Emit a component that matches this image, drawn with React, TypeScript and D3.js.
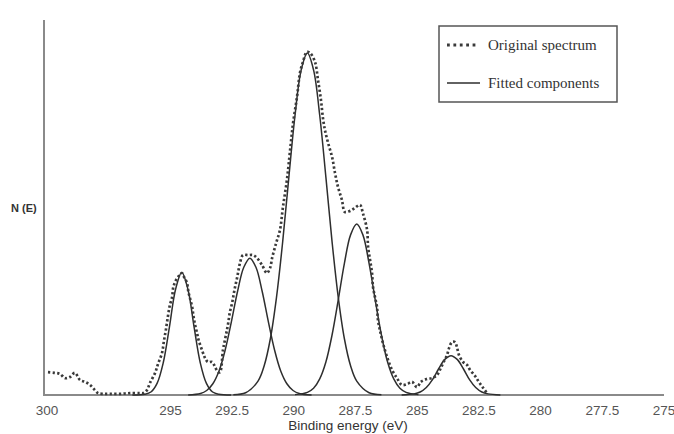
import React from 'react';
import * as d3 from 'd3';

// binding energy (eV) vs. intensity (arbitrary units)
const spectrum: [number, number][] = [
  [299.96, 6.1], [299.68, 5.9], [299.47, 5.6], [299.27, 4.5], [299.07, 4.8], [298.87, 5.9],
  [298.66, 4.0], [298.46, 3.5], [298.26, 2.7], [298.06, 1.3], [297.93, 0.5], [297.73, 0.3],
  [297.45, 0.3], [297.04, 0.3], [296.64, 0.5], [296.23, 0.5], [296.11, 0.5], [295.95, 1.3],
  [295.83, 3.2], [295.62, 5.9], [295.50, 8.3], [295.34, 11.2], [295.26, 14.5], [295.18, 17.5],
  [295.10, 21.0], [295.02, 24.0], [294.93, 26.1], [294.89, 28.5], [294.81, 30.1], [294.69, 31.5],
  [294.53, 32.5], [294.45, 31.5], [294.33, 29.9], [294.27, 27.5], [294.21, 25.9], [294.12, 23.5],
  [294.06, 20.8], [294.00, 18.7], [293.92, 16.5], [293.86, 14.7], [293.72, 12.0], [293.60, 9.9],
  [293.48, 8.8], [293.31, 8.8], [293.19, 7.5], [293.07, 6.1], [292.99, 6.1], [292.87, 12.0],
  [292.79, 14.7], [292.71, 17.3], [292.65, 19.5], [292.59, 22.1], [292.50, 24.5], [292.44, 26.7],
  [292.38, 28.8], [292.30, 31.2], [292.24, 33.3], [292.18, 35.2], [292.06, 37.3], [291.85, 37.3],
  [291.65, 37.3], [291.49, 36.5], [291.29, 34.7], [291.09, 32.5], [290.96, 33.9], [290.88, 36.5],
  [290.76, 39.5], [290.68, 41.3], [290.56, 44.0], [290.44, 50.1], [290.28, 57.3], [290.15, 65.3],
  [290.03, 72.5], [289.87, 79.5], [289.75, 85.9], [289.63, 88.8], [289.47, 91.5], [289.34, 91.2],
  [289.14, 88.8], [289.02, 84.0], [288.90, 78.7], [288.82, 73.9], [288.74, 70.7], [288.61, 67.2],
  [288.45, 63.5], [288.33, 59.2], [288.21, 55.5], [288.05, 52.0], [287.93, 48.8], [287.72, 49.1],
  [287.52, 49.9], [287.32, 50.7], [287.20, 48.5], [287.03, 44.0], [286.99, 39.5], [286.91, 36.0],
  [286.83, 32.5], [286.79, 28.8], [286.71, 26.1], [286.63, 23.5], [286.59, 20.0], [286.51, 17.3],
  [286.39, 13.9], [286.22, 10.1], [286.02, 6.7], [285.82, 4.5], [285.62, 2.7], [285.41, 2.9],
  [285.21, 3.5], [285.01, 2.1], [284.85, 3.5], [284.60, 4.3], [284.40, 4.5], [284.20, 5.3],
  [284.08, 6.7], [283.95, 8.5], [283.79, 10.7], [283.71, 12.5], [283.59, 14.1], [283.47, 14.1],
  [283.39, 12.8], [283.31, 10.7], [283.14, 8.8], [282.98, 8.0], [282.86, 6.7], [282.66, 5.1],
  [282.50, 3.5], [282.33, 1.9], [282.17, 0.5],
];

const comp1: [number, number][] = [
  [296.54, 0], [296.04, 0.2], [295.79, 0.8], [295.54, 3.1], [295.29, 8.6], [295.04, 18.1],
  [294.79, 28.2], [294.54, 32.7], [294.29, 28.2], [294.04, 18.1], [293.79, 8.6], [293.54, 3.1],
  [293.29, 0.8], [293.04, 0.2], [292.54, 0],
];
const comp2: [number, number][] = [
  [294.28, 0], [293.78, 0.4], [293.53, 1.2], [293.28, 3.0], [293.03, 6.4], [292.78, 12.0],
  [292.53, 19.5], [292.28, 27.6], [292.03, 34.0], [291.78, 36.5], [291.53, 34.0], [291.28, 27.6],
  [291.03, 19.5], [290.78, 12.0], [290.53, 6.4], [290.28, 3.0], [290.03, 1.2], [289.78, 0.4],
  [289.28, 0],
];
const comp3: [number, number][] = [
  [292.45, 0.1], [291.95, 0.6], [291.45, 3.7], [291.2, 7.8], [290.95, 15.0], [290.7, 26.1],
  [290.45, 40.9], [290.2, 58.1], [289.95, 74.6], [289.7, 86.7], [289.45, 91.2], [289.2, 86.7],
  [288.95, 74.6], [288.7, 58.1], [288.45, 40.9], [288.2, 26.1], [287.95, 15.0], [287.7, 7.8],
  [287.45, 3.7], [286.95, 0.6], [286.45, 0.1],
];
const comp4: [number, number][] = [
  [289.95, 0.1], [289.45, 0.7], [289.2, 1.8], [288.95, 4.3], [288.7, 8.8], [288.45, 16.0],
  [288.2, 25.3], [287.95, 35.1], [287.7, 42.7], [287.45, 45.6], [287.2, 42.7], [286.95, 35.1],
  [286.7, 25.3], [286.45, 16.0], [286.2, 8.8], [285.95, 4.3], [285.7, 1.8], [285.45, 0.7],
  [284.95, 0.1],
];
const comp5: [number, number][] = [
  [285.63, 0], [285.13, 0.3], [284.88, 0.8], [284.63, 2.0], [284.38, 4.1], [284.13, 7.0],
  [283.88, 9.5], [283.63, 10.5], [283.38, 9.5], [283.13, 7.0], [282.88, 4.1], [282.63, 2.0],
  [282.38, 0.8], [282.13, 0.3], [281.63, 0],
];
const components = [comp1, comp2, comp3, comp4, comp5];

const xTicks = [300, 295, 292.5, 290, 287.5, 285, 282.5, 280, 277.5, 275];
const legendItems = ['Original spectrum', 'Fitted components'];

const W = 674;
const H = 434;

export default function App() {
  const x = d3.scaleLinear().domain([300, 275]).range([47, 664]);
  const y = d3.scaleLinear().domain([0, 100]).range([395, 20]);

  const line = d3.line<[number, number]>()
    .x(d => x(d[0]))
    .y(d => y(d[1]))
    .curve(d3.curveCatmullRom);

  const sans = 'Liberation Sans, Arial, sans-serif';
  const serif = 'Liberation Serif, Times New Roman, serif';

  return (
    <svg width={W} height={H} style={{ position: 'absolute', left: 0, top: 0, background: '#fff' }}>
      {/* axes */}
      <line x1={44} x2={44} y1={20} y2={395} stroke="#8a8a8a" strokeWidth={2} />
      <line x1={43} x2={664} y1={395} y2={395} stroke="#8a8a8a" strokeWidth={2} />

      {xTicks.map(t => (
        <text key={t} x={x(t)} y={415} textAnchor="middle" fontFamily={sans} fontSize={13.5} fill="#555">
          {t}
        </text>
      ))}
      <text x={348} y={430} textAnchor="middle" fontFamily={sans} fontSize={13.5} fill="#333">
        Binding energy (eV)
      </text>
      <text x={11} y={212} fontFamily={sans} fontSize={11} fontWeight="bold" fill="#333">
        N (E)
      </text>

      {/* fitted components */}
      {components.map((c, i) => (
        <path key={i} d={line(c) ?? ''} fill="none" stroke="#2e2e2e" strokeWidth={1.5} />
      ))}

      {/* original spectrum */}
      <path d={line(spectrum) ?? ''} fill="none" stroke="#3a3a3a" strokeWidth={2.7} strokeDasharray="2.3,2.3" />

      {/* legend */}
      <g>
        <rect x={439} y={26} width={178} height={76} fill="#fff" stroke="#555" strokeWidth={1.5} />
        <line x1={447} x2={479} y1={45} y2={45} stroke="#3a3a3a" strokeWidth={2.8} strokeDasharray="2.8,3.6" />
        <line x1={447} x2={480} y1={83} y2={83} stroke="#2e2e2e" strokeWidth={1.5} />
        {legendItems.map((t, i) => (
          <text key={t} x={488} y={50 + i * 38} fontFamily={serif} fontSize={15} fill="#333">
            {t}
          </text>
        ))}
      </g>
    </svg>
  );
}
